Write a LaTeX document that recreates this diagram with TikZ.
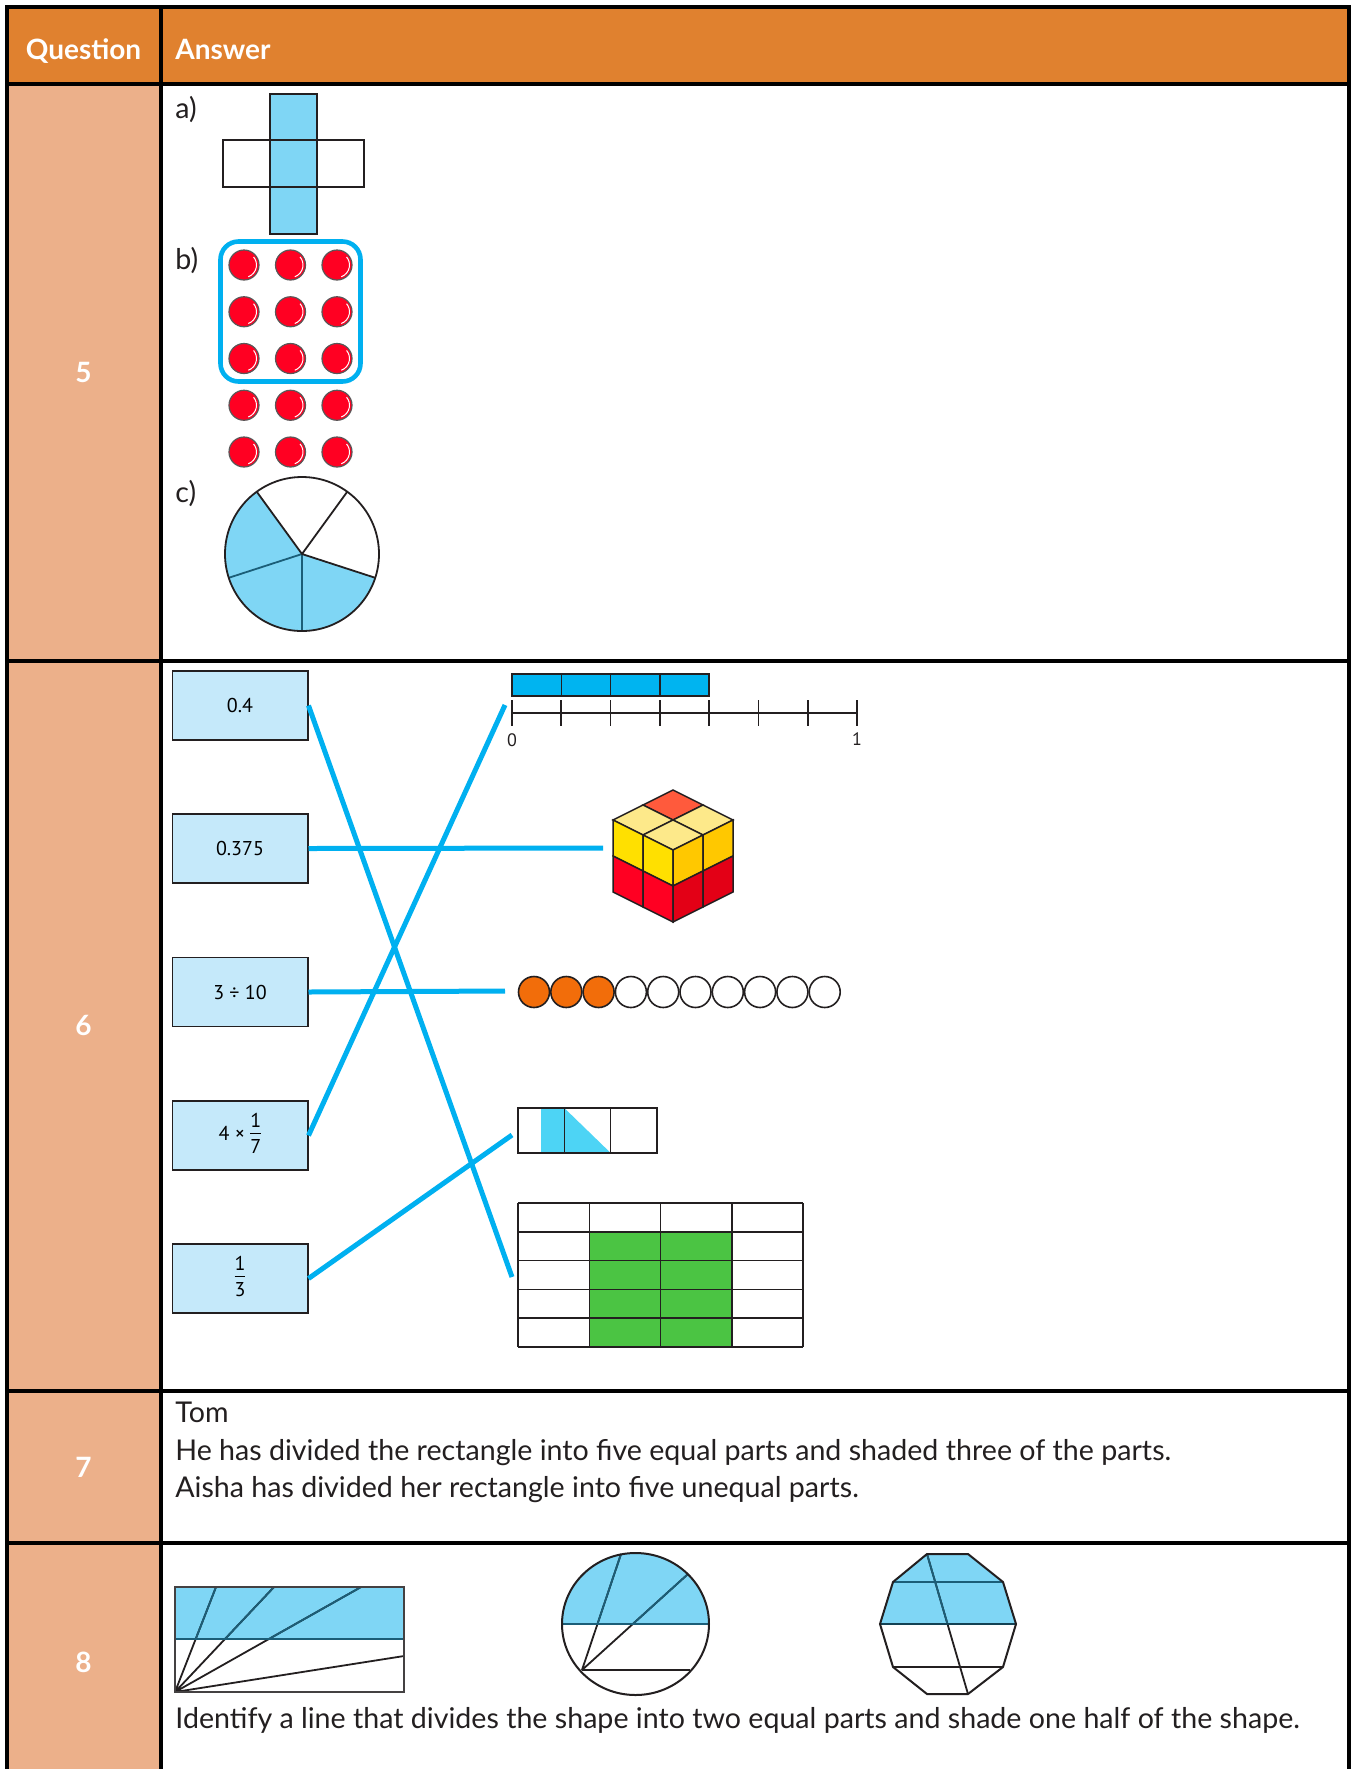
\documentclass[tikz,border=0pt]{standalone}
\usepackage{fontspec}
\setmainfont{Lato}
\newfontfamily\cardfont{PT Sans}
\definecolor{hdrorange}{HTML}{E0812F}
\definecolor{qpeach}{HTML}{ECB08A}
\definecolor{paleblue}{HTML}{7FD6F5}
\definecolor{linkblue}{HTML}{00B0F0}
\definecolor{cardblue}{HTML}{C5E9FA}
\definecolor{ink}{HTML}{231F20}
\definecolor{deepteal}{HTML}{1B5E78}
\definecolor{counterred}{HTML}{FF0022}
\definecolor{beadorange}{HTML}{F26D0A}
\definecolor{barblue}{HTML}{00B4F0}
\definecolor{gridgreen}{HTML}{4BC443}
\definecolor{stripblue}{HTML}{4DD4F5}
\definecolor{topyellow}{HTML}{FDE98A}
\definecolor{topred}{HTML}{FF5A3C}
\definecolor{leftyellow}{HTML}{FFE000}
\definecolor{rightyellow}{HTML}{FFC800}
\definecolor{leftred}{HTML}{FF0022}
\definecolor{rightred}{HTML}{E30016}
% a stacked fraction set in the current text font
\newcommand{\cardfrac}[2]{$\vcenter{\hbox{\begin{tabular}{@{}c@{}}#1\\[-1pt]\hline\noalign{\vskip1.5pt}#2\end{tabular}}}$}
\begin{document}
\begin{tikzpicture}[x=0.5pt,y=-0.5pt,
  rule/.style={line width=2pt, draw=black},
  outline/.style={draw=ink, line width=0.75pt},
  hdrtext/.style={text=white, font=\bfseries\fontsize{14}{16}\selectfont, inner sep=0pt},
  qnum/.style={text=white, font=\bfseries\fontsize{14}{16}\selectfont, inner sep=0pt},
  body/.style={text=ink, font=\fontsize{14.3}{17}\selectfont, inner sep=0pt, anchor=base west},
  card/.style={draw=ink, line width=0.75pt, fill=cardblue, minimum width=67.75pt,
    minimum height=34.5pt, inner sep=0pt, font=\cardfont\fontsize{10}{12}\selectfont},
  link/.style={draw=linkblue, line width=2.5pt},
  ticklabel/.style={font=\cardfont\fontsize{9}{10}\selectfont, inner sep=0pt, text=ink},
]
\useasboundingbox (0,0) rectangle (1356,1769);
\fill[white] (0,0) rectangle (1356,1769);

% ---------- table frame ----------
\fill[hdrorange] (7,7) rectangle (1349,84);
\fill[qpeach] (7,84) rectangle (160.5,1769);
\draw[rule] (7,1769) -- (7,7) -- (1349,7) -- (1349,1769);
\draw[rule] (160.5,7) -- (160.5,1769);
\foreach \y in {84,660.5,1391,1543} \draw[rule] (7,\y) -- (1349,\y);

\node[hdrtext, anchor=base] (qhead) at (83.5,59) {Question};
\node[hdrtext, anchor=base west] (ahead) at (175,59) {Answer};
\node[qnum] (q5) at (83.5,372) {5};
\node[qnum] (q6) at (83.5,1025) {6};
\node[qnum] (q7) at (83.5,1467) {7};
\node[qnum] (q8) at (83.5,1662) {8};

% ---------- question 5 ----------
\node[body] (la) at (175,118) {a)};
\fill[paleblue] (270,94) rectangle (317,234);
\draw[outline] (223,140) rectangle (364,187);
\draw[outline] (270,94) rectangle (317,234);

\node[body] (lb) at (175,269) {b)};
\draw[linkblue, line width=2.3pt, rounded corners=9pt] (220.5,241.5) rectangle (360.5,381.5);
\foreach \r in {0,...,4} \foreach \c in {0,1,2} {
  \filldraw[fill=counterred, draw=ink!75, line width=0.6pt] ({244+46.5*\c},{265+46.75*\r}) circle[radius=15];
  \draw[white, line width=0.5pt] ({244+46.5*\c},{265+46.75*\r}) ++(70:12.5) arc[start angle=70, end angle=-40, radius=12.5];
}

\node[body] (lc) at (175,502) {c)};
\coordinate (pc) at (302,554);
\fill[paleblue] (pc) -- ++(-126:77) arc[start angle=-126, end angle=-342, radius=77] -- cycle;
\draw[deepteal, line width=0.9pt] (pc) -- ++(-198:77) (pc) -- ++(-270:77);
\draw[ink, line width=0.9pt] (pc) -- ++(-126:77) (pc) -- ++(-342:77) (pc) -- ++(-54:77);
\draw[ink, line width=0.9pt] (pc) circle[radius=77];

% ---------- question 6 ----------
\node[card] (c1) at (240,705.5) {0.4};
\node[card] (c2) at (240,848.5) {0.375};
\node[card] (c3) at (240,992) {3 ÷ 10};
\node[card] (c4) at (240,1135.5) {4 × \cardfrac{1}{7}};
\node[card] (c5) at (240,1278.5) {\cardfrac{1}{3}};

% number line showing four sevenths
\foreach \k in {0,...,3} \draw[outline, fill=barblue] ({512+49.3*\k},674) rectangle ++(49.3,22);
\draw[ink, line width=0.9pt] (512,713) -- (857,713);
\foreach \k in {0,...,7} \draw[ink, line width=0.9pt] ({512+49.29*\k},700) -- ++(0,26);
\node[ticklabel] (n0) at (512,740) {0};
\node[ticklabel] (n1) at (857,739) {1};
\coordinate (linein) at (505,705);

% 2x2x2 block of cubes
\foreach \i in {0,1} \foreach \j in {0,1} {
  \pgfmathsetmacro{\px}{673-30*\i+30*\j}
  \pgfmathsetmacro{\py}{790+15*\i+15*\j}
  \ifnum\i\j=0 \def\tc{topred}\else\def\tc{topyellow}\fi
  \filldraw[fill=\tc, draw=ink, line width=0.75pt] (\px,\py) -- ++(-30,15) -- ++(30,15) -- ++(30,-15) -- cycle;
}
\foreach \j in {0,1} \foreach \k in {0,1} {
  \pgfmathsetmacro{\px}{613+30*\j}
  \pgfmathsetmacro{\py}{820+15*\j+36*\k}
  \ifnum\k=0 \def\lc{leftyellow}\else\def\lc{leftred}\fi
  \filldraw[fill=\lc, draw=ink, line width=0.75pt] (\px,\py) -- ++(30,15) -- ++(0,36) -- ++(-30,-15) -- cycle;
}
\foreach \i in {0,1} \foreach \k in {0,1} {
  \pgfmathsetmacro{\px}{673+30*\i}
  \pgfmathsetmacro{\py}{850-15*\i+36*\k}
  \ifnum\k=0 \def\rc{rightyellow}\else\def\rc{rightred}\fi
  \filldraw[fill=\rc, draw=ink, line width=0.75pt] (\px,\py) -- ++(30,-15) -- ++(0,36) -- ++(-30,15) -- cycle;
}
\coordinate (cubein) at (603,848);

% ten beads, three shaded
\foreach \k in {0,...,9} {
  \ifnum\k<3 \def\bc{beadorange}\else\def\bc{white}\fi
  \filldraw[fill=\bc, draw=ink, line width=0.8pt] ({534+32.3*\k},992) circle[radius=15.5];
}
\coordinate (beadin) at (505,991);

% bar split in three with one third shaded
\fill[stripblue] (541.2,1108) rectangle (564.3,1153);
\fill[stripblue] (564.3,1108) -- (564.3,1153) -- (610.7,1153) -- cycle;
\draw[outline] (518,1108) rectangle (657,1153);
\draw[outline] (564.3,1108) -- (564.3,1153) (610.7,1108) -- (610.7,1153);
\coordinate (thirdin) at (512,1135);

% 4x5 grid with eight cells shaded
\fill[gridgreen] (589.25,1231.8) rectangle (731.75,1347);
\foreach \k in {0,...,4} \draw[outline] ({518+71.25*\k},1203) -- ++(0,144);
\foreach \k in {0,...,5} \draw[outline] (518,{1203+28.8*\k}) -- ++(285,0);
\coordinate (gridin) at (512,1277);

\draw[link] (c1.east) -- (gridin);
\draw[link] (c2.east) -- (cubein);
\draw[link] (c3.east) -- (beadin);
\draw[link] (c4.east) -- (linein);
\draw[link] (c5.east) -- (thirdin);

% ---------- question 7 ----------
\node[body] (t1) at (175,1422) {Tom};
\node[body] (t2) at (175,1460) {He has divided the rectangle into five equal parts and shaded three of the parts.};
\node[body] (t3) at (175,1497) {Aisha has divided her rectangle into five unequal parts.};

% ---------- question 8 ----------
% rectangle
\fill[paleblue] (175,1587) rectangle (404,1639);
\draw[ink, line width=0.9pt] (175,1692) -- (216,1587) (175,1692) -- (274,1587)
  (175,1692) -- (361,1587) (175,1692) -- (404,1656);
\begin{scope}
  \clip (175,1587) rectangle (404,1639);
  \draw[deepteal, line width=0.9pt] (175,1692) -- (216,1587) (175,1692) -- (274,1587) (175,1692) -- (361,1587);
\end{scope}
\draw[deepteal, line width=0.9pt] (175,1639) -- (404,1639);
\draw[ink!85, line width=1pt] (175,1587) rectangle (404,1692);

% circle
\begin{scope}
  \clip (550,1540) rectangle (720,1624);
  \fill[paleblue] (635.5,1624) ellipse[x radius=73.5, y radius=71];
\end{scope}
\coordinate (ep) at (582,1670);
\draw[ink, line width=0.9pt] (ep) -- (621,1554) (ep) -- (688,1574);
\begin{scope}
  \clip (550,1540) rectangle (720,1624);
  \draw[deepteal, line width=0.9pt] (ep) -- (621,1554) (ep) -- (688,1574);
\end{scope}
\draw[ink, line width=1.3pt] (ep) -- (690,1670);
\draw[deepteal, line width=1.3pt] (562,1624) -- (709,1624);
\draw[ink, line width=1pt] (635.5,1624) ellipse[x radius=73.5, y radius=71];

% decagon
\fill[paleblue] (927,1554) -- (968,1554) -- (1003,1582) -- (1016,1624) -- (880,1624) -- (893,1582) -- cycle;
\draw[ink, line width=0.9pt] (927,1554) -- (968,1694);
\begin{scope}
  \clip (870,1540) rectangle (1030,1624);
  \draw[deepteal, line width=0.9pt] (927,1554) -- (968,1694);
\end{scope}
\draw[deepteal, line width=1.3pt] (893,1582) -- (1003,1582);
\draw[deepteal!70!black, line width=1.3pt] (880,1624) -- (1016,1624);
\draw[ink, line width=1.4pt] (893,1667) -- (1003,1667);
\draw[ink, line width=1pt] (927,1554) -- (968,1554) -- (1003,1582) -- (1016,1624) -- (1003,1667)
  -- (968,1694) -- (927,1694) -- (893,1667) -- (880,1624) -- (893,1582) -- cycle;

\node[body] (t4) at (175,1728) {Identify a line that divides the shape into two equal parts and shade one half of the shape.};
\end{tikzpicture}
\end{document}
